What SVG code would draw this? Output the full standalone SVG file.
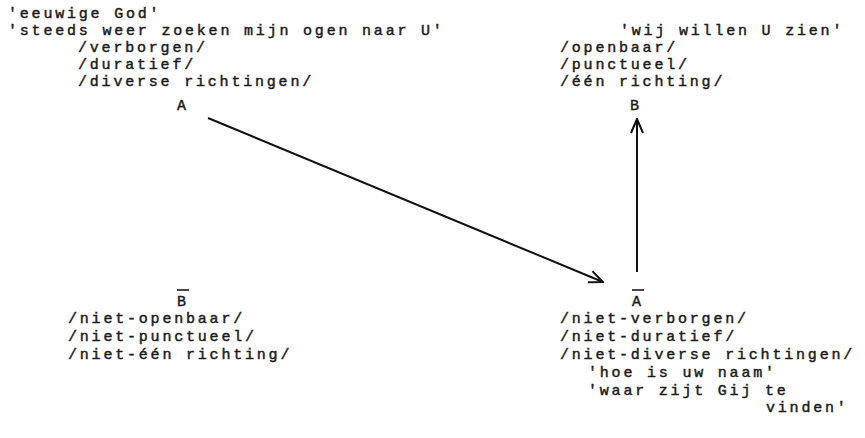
<svg xmlns="http://www.w3.org/2000/svg" width="865" height="438" viewBox="0 0 865 438">
  <style>
    text { font-family: "Liberation Mono", "DejaVu Sans Mono", monospace; font-size: 15px; letter-spacing: 2.8px; fill: #1a1a1a; stroke: #1a1a1a; stroke-width: 0.45px; }
    .conn { stroke: #111; stroke-width: 2; fill: none; }
    .bar { stroke: #1a1a1a; stroke-width: 1.6; }
  </style>
  <defs>
    <marker id="open-arrow" viewBox="0 0 16 14" refX="15" refY="7" markerWidth="16" markerHeight="14" markerUnits="userSpaceOnUse" orient="auto">
      <path d="M1,1 L15,7 L1,13" fill="none" stroke="#111" stroke-width="2"/>
    </marker>
  </defs>
  <rect width="865" height="438" fill="#ffffff"/>

  <!-- top-left: A -->
  <g id="node-A">
    <text x="8" y="18">'eeuwige God'</text>
    <text x="8" y="35">'steeds weer zoeken mijn ogen naar U'</text>
    <text x="78" y="52">/verborgen/</text>
    <text x="78" y="69">/duratief/</text>
    <text x="78" y="86">/diverse richtingen/</text>
    <text x="183" y="110" text-anchor="middle">A</text>
  </g>

  <!-- top-right: B -->
  <g id="node-B">
    <text x="620" y="35">'wij willen U zien'</text>
    <text x="560" y="52">/openbaar/</text>
    <text x="560" y="69">/punctueel/</text>
    <text x="560" y="86">/één richting/</text>
    <text x="636" y="110" text-anchor="middle">B</text>
  </g>

  <!-- bottom-left: not-B -->
  <g id="node-notB">
    <line class="bar" x1="177" y1="290" x2="189" y2="290"/>
    <text x="183" y="306" text-anchor="middle">B</text>
    <text x="68" y="323">/niet-openbaar/</text>
    <text x="68" y="341">/niet-punctueel/</text>
    <text x="68" y="359">/niet-één richting/</text>
  </g>

  <!-- bottom-right: not-A -->
  <g id="node-notA">
    <line class="bar" x1="632" y1="290" x2="644" y2="290"/>
    <text x="638" y="306" text-anchor="middle">A</text>
    <text x="560" y="323">/niet-verborgen/</text>
    <text x="560" y="341">/niet-duratief/</text>
    <text x="560" y="359">/niet-diverse richtingen/</text>
    <text x="588" y="377">'hoe is uw naam'</text>
    <text x="588" y="395">'waar zijt Gij te</text>
    <text x="766" y="412">vinden'</text>
  </g>

  <!-- connectors -->
  <g id="connectors">
    <line class="conn" x1="208" y1="118" x2="603" y2="282" marker-end="url(#open-arrow)"/>
    <line class="conn" x1="637" y1="272" x2="637" y2="119" marker-end="url(#open-arrow)"/>
  </g>
</svg>
